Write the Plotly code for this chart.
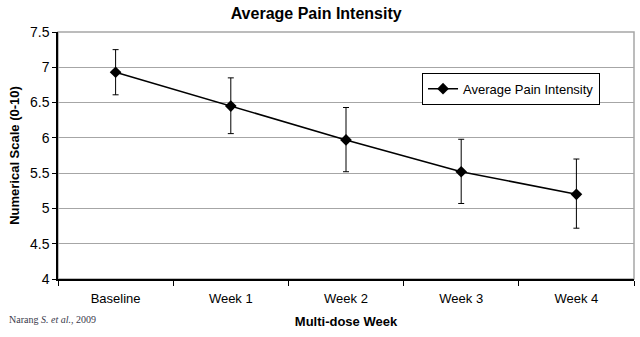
import plotly.graph_objects as go

# Weekly pain scores (mean with asymmetric error bars)
weeks = ["Baseline", "Week 1", "Week 2", "Week 3", "Week 4"]
pain_mean = [6.93, 6.45, 5.97, 5.52, 5.20]
err_upper = [7.25, 6.85, 6.43, 5.98, 5.70]
err_lower = [6.61, 6.06, 5.52, 5.07, 4.72]

plus = [u - m for u, m in zip(err_upper, pain_mean)]
minus = [m - l for m, l in zip(pain_mean, err_lower)]

y_ticks = [4, 4.5, 5, 5.5, 6, 6.5, 7, 7.5]
y_ticklabels = ["4", "4.5", "5", "5.5", "6", "6.5", "7", "7.5"]

FONT = "Liberation Sans, Arial, sans-serif"

fig = go.Figure()
fig.add_trace(go.Scatter(
    x=weeks, y=pain_mean, mode="lines+markers",
    name="Average Pain Intensity",
    line=dict(color="black", width=1.6),
    marker=dict(symbol="diamond", size=9, color="black"),
    error_y=dict(type="data", symmetric=False, array=plus, arrayminus=minus,
                 color="black", thickness=1, width=3),
))

fig.update_layout(
    width=640, height=337,
    margin=dict(l=58, r=6, t=32, b=58),
    paper_bgcolor="white", plot_bgcolor="white",
    font=dict(family=FONT, color="black", size=12),
    title=dict(text="<b>Average Pain Intensity</b>", x=0.494, xanchor="center",
               y=0.96, yanchor="middle", font=dict(size=16, family=FONT)),
    showlegend=True,
    legend=dict(x=0.632, y=0.835, xanchor="left", yanchor="top",
                bordercolor="black", borderwidth=1, bgcolor="white",
                font=dict(size=13, family=FONT), itemwidth=30,
                tracegroupgap=0),
    xaxis=dict(
        type="category", tickson="boundaries", ticks="outside", ticklen=5,
        tickcolor="black", showline=True, linecolor="black", linewidth=1.5,
        showgrid=False, tickfont=dict(size=13), ticklabelstandoff=7,
        title=dict(text="<b>Multi-dose Week</b>", font=dict(size=13), standoff=12),
        range=[-0.5, 4.5],
    ),
    yaxis=dict(
        range=[4, 7.5], tickvals=y_ticks, ticktext=y_ticklabels,
        ticks="outside", ticklen=4, tickcolor="black",
        showline=True, linecolor="black", linewidth=1.5,
        showgrid=True, gridcolor="#a6a6a6", gridwidth=1,
        tickfont=dict(size=14), zeroline=False,
        title=dict(text="<b>Numerical Scale (0-10)</b>", font=dict(size=13), standoff=7),
    ),
    shapes=[dict(type="rect", xref="x domain", yref="y domain", x0=0, x1=1, y0=0, y1=1,
                 line=dict(color="#a6a6a6", width=1.5), layer="below")],
    annotations=[dict(
        text="Narang <i>S. et al.</i>, 2009", xref="paper", yref="paper",
        x=-0.088, y=-0.165, xanchor="left", yanchor="middle", showarrow=False,
        font=dict(family="Liberation Serif, DejaVu Serif, serif", size=10, color="#3a3a4a"),
    )],
)

fig.write_html("out.html")
